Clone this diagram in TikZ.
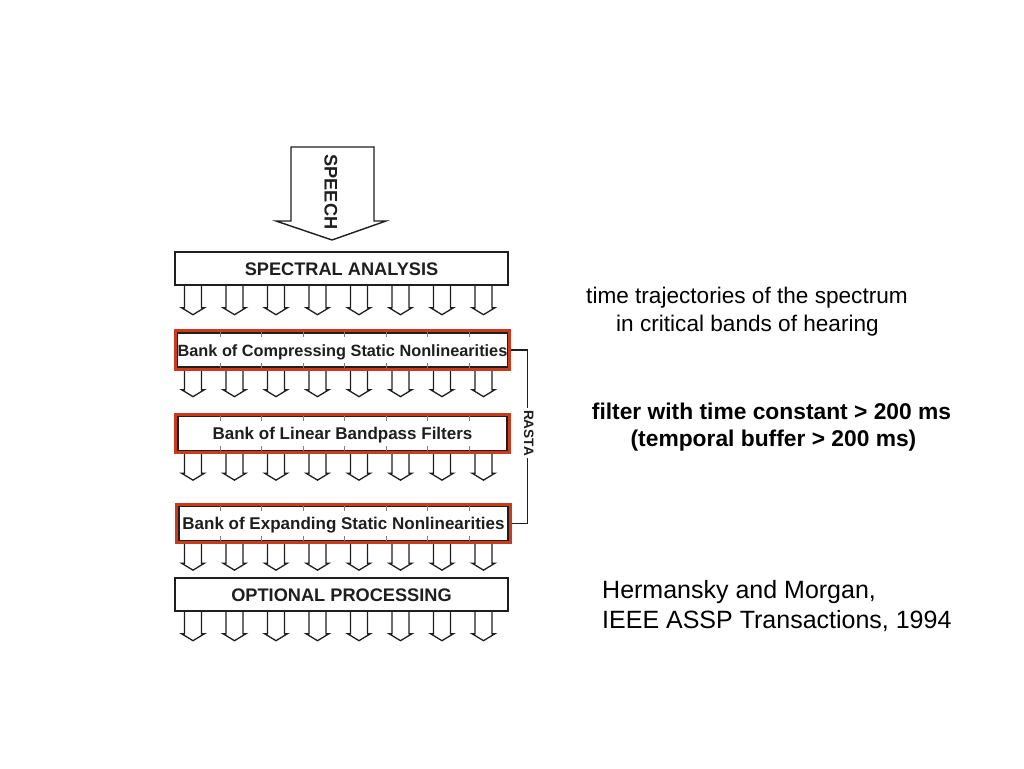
\documentclass[tikz,border=0pt]{standalone}
\usepackage{fontspec}
\setmainfont{Liberation Sans}
\usetikzlibrary{fit,calc}
\definecolor{rastared}{RGB}{204,58,28}
\definecolor{inkgray}{RGB}{30,30,30}
\begin{document}
\begin{tikzpicture}[x=1pt,y=-1pt,
  capbox/.style={draw=inkgray, line width=1.4pt, minimum width=333pt, minimum height=33pt,
    inner sep=0pt, text height=13pt, text depth=0pt, text=inkgray,
    font=\fontsize{18.2}{18.2}\selectfont\bfseries},
  bankbox/.style={draw=inkgray, line width=1.3pt, minimum width=329pt, minimum height=34pt,
    inner sep=0pt, text height=12pt, text depth=0pt, text=inkgray,
    font=\fontsize{17}{17}\selectfont\bfseries},
  redframe/.style={draw=rastared, line width=3.2pt, inner sep=1.6pt},
  arrowline/.style={draw=inkgray, line width=1.3pt, line join=miter},
  bracketline/.style={draw=inkgray, line width=1.2pt},
  tick/.style={draw=gray, line width=0.8pt},
  note/.style={anchor=base, inner sep=0pt, font=\fontsize{22.6}{22.6}\selectfont},
  boldnote/.style={anchor=base, inner sep=0pt, font=\fontsize{22.8}{22.8}\selectfont\bfseries},
  citenote/.style={anchor=base west, inner sep=0pt, font=\fontsize{25}{25}\selectfont},
  darrow/.pic={\draw[arrowline] (-8.5,0) -- (-8.5,22) -- (-11.5,22) -- (0,29) -- (11.5,22) -- (8.5,22) -- (8.5,0);}
]
\useasboundingbox (0,0) rectangle (1024,768);

% big input arrow
\coordinate (ba1) at (291,147);
\coordinate (ba2) at (374,147);
\draw[arrowline, line width=1.4pt] (291,221) -- (ba1) -- (ba2) -- (374,221) -- (386,221) -- (332,240) -- (276,221) -- cycle;
\node[rotate=-90, text height=13pt, text depth=0pt, text=inkgray,
  font=\fontsize{18.2}{18.2}\selectfont\bfseries] (speech) at (331,192) {SPEECH};

% boxes
\node[capbox] (sa) at (341.5,268.5) {SPECTRAL ANALYSIS};
\node[bankbox, font=\fontsize{16.3}{16.3}\selectfont\bfseries] (b1) at (342.5,350) {Bank of Compressing Static Nonlinearities};
\node[bankbox] (b2) at (342.5,433.5) {Bank of Linear Bandpass Filters};
\node[bankbox] (b3) at (343.5,523.5) {Bank of Expanding Static Nonlinearities};
\node[capbox] (op) at (341.5,594.5) {OPTIONAL PROCESSING};

% channel ticks inside the bank boxes
\foreach \b in {b1,b2,b3}{
  \foreach \k in {0,...,6}{
    \draw[tick] ({220+41.5*\k},0 |- \b.north) -- ++(0,5);
    \draw[tick] ({220+41.5*\k},0 |- \b.south) -- ++(0,-5);
  }
}

% channel arrows
\foreach \b in {sa,b1,b2,b3,op}{
  \foreach \i in {0,...,7}{
    \pic at ({193+41.5*\i},0 |- \b.south) {darrow};
  }
}

% red highlight frames
\node[redframe, fit=(b1)] (r1) {};
\node[redframe, fit=(b2)] (r2) {};
\node[redframe, fit=(b3)] (r3) {};

% RASTA bracket
\draw[bracketline] (r1.east) -- ++(16,0) coordinate (c1) |- (r3.east);
\node[rotate=-90, fill=white, inner sep=2pt, text height=10pt, text depth=0pt, text=inkgray,
  font=\fontsize{13.6}{13.6}\selectfont\bfseries] (rasta) at (529,433) {RASTA};

% annotations
\node[note] (t1a) at (747,303) {time trajectories of the spectrum};
\node[note] (t1b) at (747.5,331.5) {in critical bands of hearing};
\node[boldnote] (t2a) at (771.5,419.5) {filter with time constant > 200 ms};
\node[boldnote] (t2b) at (773.5,446.5) {(temporal buffer > 200 ms)};
\node[citenote] (c1a) at (602,598) {Hermansky and Morgan,};
\node[citenote] (c1b) at (602,628) {IEEE ASSP Transactions, 1994};
\end{tikzpicture}
\end{document}
